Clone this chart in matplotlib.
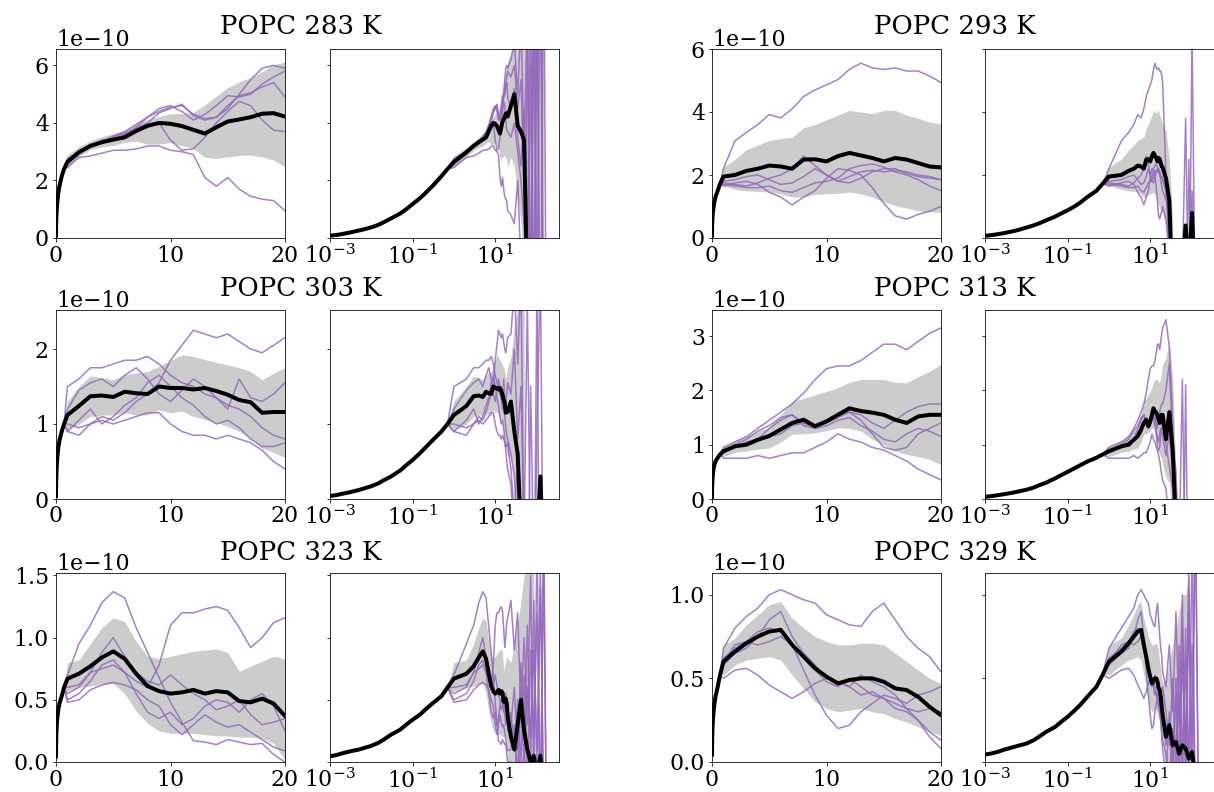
import numpy as np
import matplotlib
matplotlib.use("Agg")
import matplotlib.pyplot as plt

plt.rcParams["font.family"] = ["DejaVu Serif"]
plt.rcParams["mathtext.fontset"] = "dejavuserif"
plt.rcParams["font.size"] = 22
plt.rcParams["xtick.major.pad"] = 3

nan = np.nan

# ---------------- data (units of 1e-10) ----------------
temps = ["283", "293", "303", "313", "323", "329"]

t_early = [0.001, 0.0015, 0.002, 0.003, 0.005, 0.007, 0.01, 0.015, 0.02, 0.03, 0.05, 0.07, 0.1, 0.15, 0.2, 0.3, 0.5, 0.7]
t_main = [1, 2, 3, 4, 5, 6, 7, 8, 9, 10, 11, 12, 13, 14, 15, 16, 17, 18, 19, 20]
t_tail = [24, 29, 35, 42, 50, 60, 72, 86, 103, 124, 149, 179]

# ---- 283 K ----
early_283 = [0.08, 0.11, 0.14, 0.19, 0.26, 0.31, 0.37, 0.46, 0.55, 0.68, 0.85, 1.0, 1.18, 1.38, 1.55, 1.8, 2.15, 2.4]
mean_283 = [2.65, 2.98, 3.2, 3.33, 3.42, 3.5, 3.72, 3.9, 4.0, 3.97, 3.89, 3.76, 3.63, 3.85, 4.05, 4.12, 4.2, 4.32, 4.34, 4.22,
            4.6, 5.0, 3.9, 3.7, 3.4, -2.0, -5.0, -6.0, -7.0, -8.0, -9.0, -10.0]
hi_283 = [2.85, 3.15, 3.35, 3.5, 3.6, 3.7, 3.95, 4.1, 4.2, 4.3, 4.3, 4.35, 4.6, 4.9, 5.2, 5.4, 5.55, 5.75, 6.0, 6.1,
          6.4, 7.5, 8.0, 8.5, 9.0, 9.5, 10, 10, 10, 10, 10, nan]
lo_283 = [2.45, 2.8, 3.05, 3.15, 3.2, 3.3, 3.35, 3.25, 3.25, 3.3, 3.2, 3.1, 2.8, 2.75, 2.8, 2.85, 2.87, 2.8, 2.7, 2.47,
          2.8, 2.5, 1.5, 0.5, -1, -3, -5, -6, -7, -8, -9, nan]
runs_283 = [
    [2.45, 2.8, 2.85, 2.95, 3.05, 3.05, 3.1, 3.2, 3.2, 3.05, 3.0, 2.9, 2.1, 1.8, 2.1, 1.7, 1.45, 1.35, 1.3, 0.95,
     0.8, 0.5, 2.0, -1.0, -3.0, 7.0, -5.0, 9.0, -4.0, -8.0, -9.0, -10],
    [2.7, 3.0, 3.2, 3.4, 3.45, 3.6, 3.85, 4.2, 4.4, 4.55, 4.6, 4.3, 4.15, 4.2, 4.5, 5.0, 5.5, 5.9, 6.0, 5.9,
     6.2, 6.8, 5.0, 7.5, 3.0, 8.0, -2.0, 10.0, 5.0, 12, -5, -8],
    [2.75, 3.0, 3.25, 3.35, 3.55, 3.7, 3.95, 4.2, 4.5, 4.6, 4.4, 4.1, 4.3, 4.6, 4.95, 4.9, 5.0, 5.35, 5.6, 5.8,
     5.6, 6.0, 4.5, 5.5, 2.0, -1.0, 9.0, -3.0, 11.0, -6, -8, -9],
    [2.6, 2.95, 3.15, 3.3, 3.4, 3.55, 3.8, 4.0, 4.35, 4.5, 4.65, 4.25, 4.1, 4.2, 4.6, 4.95, 5.05, 5.25, 5.4, 4.9,
     4.5, 5.2, 3.5, 2.5, 4.5, 1.0, -4.0, 8.0, -2.0, 10, -6, -8],
    [2.55, 2.9, 3.2, 3.35, 3.5, 3.65, 3.8, 3.95, 4.0, 3.4, 3.05, 3.1, 3.5, 4.0, 4.4, 4.75, 4.6, 4.1, 3.75, 3.7,
     3.5, 4.0, 3.0, 2.0, 0.5, -2.0, 6.0, -6.0, 8.0, -7, 12, -9],
]

# ---- 293 K ----
early_293 = [0.07, 0.095, 0.12, 0.16, 0.22, 0.27, 0.33, 0.4, 0.46, 0.56, 0.68, 0.78, 0.88, 1.01, 1.12, 1.3, 1.5, 1.72]
mean_293 = [1.95, 2.0, 2.13, 2.2, 2.3, 2.27, 2.2, 2.49, 2.5, 2.43, 2.6, 2.7, 2.62, 2.54, 2.43, 2.54, 2.49, 2.38, 2.27, 2.24,
            1.9, 1.2, -2.0, -3.0, -2.0, -1.0, 0.4, -1.0, 0.8, -2.0, -3.0, -4.0]
hi_293 = [2.25, 2.5, 2.8, 2.95, 3.1, 3.15, 3.2, 3.5, 3.6, 3.75, 3.9, 4.05, 4.0, 3.95, 4.05, 4.05, 3.9, 3.8, 3.68, 3.62,
          3.4, 2.5, 0.5, nan, nan, nan, nan, nan, nan, nan, nan, nan]
lo_293 = [1.65, 1.55, 1.5, 1.48, 1.46, 1.4, 1.3, 1.3, 1.38, 1.4, 1.42, 1.46, 1.4, 1.3, 1.15, 1.03, 0.95, 0.86, 0.83, 0.81,
          0.4, -0.2, -4.0, nan, nan, nan, nan, nan, nan, nan, nan, nan]
runs_293 = [
    [2.2, 3.08, 3.35, 3.6, 3.92, 3.81, 4.1, 4.49, 4.7, 4.86, 5.03, 5.35, 5.55, 5.4, 5.35, 5.4, 5.3, 5.3, 5.14, 4.94,
     2.0, -1, -4, -6, -5, -8, -6, -7, -9, -6, -8, -9],
    [1.75, 1.7, 1.65, 1.75, 1.9, 2.0, 2.2, 2.6, 2.3, 2.0, 1.8, 1.75, 1.9, 2.1, 2.2, 2.2, 2.05, 1.95, 1.9, 1.85,
     1.5, 0.5, -2, -4, -3, -1, 3.8, -3, -5, -6, -7, -8],
    [1.7, 1.65, 1.6, 1.6, 1.65, 1.5, 1.45, 1.6, 1.75, 1.8, 1.9, 2.2, 2.3, 2.35, 2.25, 2.1, 2.0, 1.85, 1.65, 1.5,
     1.2, 0.8, -1, -3, -5, -3, -4, 2.5, -4, -5, -6, -7],
    [1.65, 1.75, 1.8, 1.7, 1.45, 1.3, 1.05, 1.3, 1.5, 1.9, 2.2, 2.15, 2.0, 1.6, 1.1, 0.7, 0.6, 0.75, 0.85, 1.0,
     0.6, -0.5, -2, -3, -4, -5, -3, -4, 6.5, -3, -5, -6],
    [1.8, 1.85, 1.95, 2.0, 1.85, 1.7, 1.75, 1.95, 2.2, 2.0, 1.8, 1.95, 2.1, 2.15, 2.1, 2.15, 2.1, 2.0, 1.95, 1.85,
     1.5, 0.2, -1.5, -2, -3, -2, -1, -2, 1.5, -1, -4, -5],
]

# ---- 303 K ----
early_303 = [0.04, 0.055, 0.07, 0.09, 0.12, 0.145, 0.17, 0.21, 0.25, 0.3, 0.38, 0.45, 0.52, 0.61, 0.68, 0.78, 0.9, 1.0]
mean_303 = [1.12, 1.24, 1.37, 1.38, 1.36, 1.43, 1.41, 1.4, 1.5, 1.48, 1.48, 1.46, 1.48, 1.44, 1.39, 1.32, 1.29, 1.15, 1.16, 1.16,
            1.3, 0.9, 0.6, -0.5, -2.0, -3.0, -2.0, -1.0, -0.5, 0.3, -1.0, -2.0]
hi_303 = [1.3, 1.5, 1.64, 1.62, 1.59, 1.66, 1.68, 1.7, 1.77, 1.85, 1.92, 1.9, 1.86, 1.82, 1.79, 1.75, 1.7, 1.59, 1.68, 1.75,
          1.9, 2.3, 2.6, 3.0, 3.0, nan, nan, nan, nan, nan, nan, nan]
lo_303 = [0.92, 1.0, 1.1, 1.12, 1.12, 1.15, 1.12, 1.12, 1.19, 1.15, 1.17, 1.1, 1.06, 1.02, 0.97, 0.9, 0.81, 0.68, 0.62, 0.55,
          0.6, 0.2, -0.4, -1.0, -2.0, nan, nan, nan, nan, nan, nan, nan]
runs_303 = [
    [0.9, 0.85, 1.0, 1.1, 1.05, 1.15, 1.3, 1.4, 1.55, 1.85, 2.05, 2.25, 2.2, 2.15, 2.2, 2.1, 2.0, 1.95, 2.05, 2.15,
     2.2, 2.8, 1.8, 3.0, -1, -2, -3, -2, 3.0, -4, -5, -6],
    [1.5, 1.6, 1.75, 1.75, 1.8, 1.85, 1.85, 1.9, 1.8, 1.65, 1.55, 1.5, 1.4, 1.35, 1.25, 1.2, 1.1, 0.95, 0.85, 0.8,
     0.6, 0.3, -0.5, -1, -2, -3, -1, -3, -2, -4, -5, -6],
    [1.2, 1.45, 1.55, 1.6, 1.5, 1.65, 1.75, 1.6, 1.4, 1.3, 1.45, 1.6, 1.5, 1.35, 1.2, 1.6, 1.35, 1.3, 1.4, 1.55,
     1.4, 2.0, 0.8, 1.5, -0.5, 2.6, -1, -2, 1.0, 3.0, -2, -3],
    [0.9, 1.05, 1.2, 1.0, 1.1, 1.25, 1.35, 1.55, 1.65, 1.5, 1.35, 1.25, 1.1, 1.0, 1.05, 0.95, 0.8, 0.7, 0.7, 0.75,
     0.4, -0.2, 0.5, -1, -2, -1, -3, -4, -2, -3, -4, -5],
    [1.0, 0.95, 1.0, 1.05, 1.0, 1.05, 1.1, 1.15, 1.15, 1.0, 0.9, 0.85, 0.85, 0.8, 0.85, 0.8, 0.75, 0.65, 0.5, 0.4,
     0.2, -0.5, -1, -2, -3, -2, 1.5, -1, -3, -4, -5, -6],
]

# ---- 313 K ----
early_313 = [0.04, 0.055, 0.07, 0.09, 0.12, 0.145, 0.17, 0.21, 0.25, 0.3, 0.38, 0.44, 0.5, 0.57, 0.62, 0.69, 0.76, 0.82]
mean_313 = [0.88, 0.97, 1.0, 1.09, 1.16, 1.28, 1.4, 1.46, 1.34, 1.43, 1.55, 1.67, 1.62, 1.59, 1.55, 1.46, 1.4, 1.52, 1.55, 1.55,
            1.1, 1.6, 0.9, -0.5, -2, -3, -4, -5, -6, -7, -8, -9]
hi_313 = [0.98, 1.08, 1.16, 1.25, 1.31, 1.55, 1.8, 1.85, 1.92, 1.98, 2.05, 2.15, 2.2, 2.2, 2.2, 2.15, 2.14, 2.25, 2.35, 2.48,
          2.6, 2.9, 2.2, 0.5, nan, nan, nan, nan, nan, nan, nan, nan]
lo_313 = [0.78, 0.86, 0.88, 0.92, 0.94, 1.05, 1.19, 1.2, 1.22, 1.26, 1.31, 1.3, 1.25, 1.1, 1.0, 0.88, 0.82, 0.78, 0.73, 0.63,
          0.4, 0.3, -0.4, -1.5, nan, nan, nan, nan, nan, nan, nan, nan]
runs_313 = [
    [0.95, 1.05, 1.15, 1.3, 1.45, 1.6, 1.75, 1.95, 2.2, 2.4, 2.45, 2.45, 2.55, 2.7, 2.85, 2.85, 2.75, 2.9, 3.05, 3.15,
     3.3, 2.8, 1.5, -1, -3, -4, -5, -6, -7, -8, -9, -10],
    [0.75, 0.75, 0.75, 0.8, 0.75, 0.8, 0.85, 0.85, 0.95, 1.05, 1.2, 1.1, 1.05, 0.95, 0.9, 0.8, 0.7, 0.55, 0.45, 0.35,
     0.2, -0.5, -2, -3, -4, -5, -6, -6, -7, -8, -9, -10],
    [0.9, 1.0, 1.1, 1.25, 1.35, 1.5, 1.55, 1.4, 1.35, 1.45, 1.55, 1.6, 1.55, 1.4, 1.3, 1.45, 1.6, 1.7, 1.75, 1.75,
     2.0, 2.5, 1.0, 0.5, -1, 2.2, -2, -3, -4, -5, -6, -7],
    [0.85, 0.95, 1.05, 1.1, 1.3, 1.45, 1.55, 1.35, 1.3, 1.4, 1.5, 1.6, 1.45, 1.2, 0.95, 0.9, 0.95, 1.2, 1.3, 1.4,
     1.0, 0.6, 0.2, -1, -2, -3, 2.1, -3, -4, -5, -6, -7],
    [0.9, 0.95, 1.0, 1.1, 1.15, 1.2, 1.35, 1.4, 1.3, 1.35, 1.45, 1.5, 1.35, 1.25, 1.1, 1.05, 1.2, 1.3, 1.25, 1.15,
     0.8, 1.2, 0.5, -0.5, -1.5, -2, -3, -4, -5, -6, -7, -8],
]

# ---- 323 K ----
early_323 = [0.045, 0.058, 0.07, 0.085, 0.1, 0.115, 0.13, 0.155, 0.18, 0.22, 0.26, 0.3, 0.34, 0.38, 0.42, 0.47, 0.53, 0.6]
mean_323 = [0.67, 0.71, 0.77, 0.84, 0.89, 0.83, 0.71, 0.61, 0.57, 0.55, 0.56, 0.58, 0.55, 0.57, 0.56, 0.49, 0.48, 0.51, 0.47, 0.37,
            0.2, 0.1, 0.3, 0.5, 0.25, 0.1, 0.0, 0.05, -0.1, 0.05, -0.3, -0.5]
hi_323 = [0.8, 0.82, 0.95, 1.08, 1.16, 1.13, 0.97, 0.85, 0.83, 0.85, 0.87, 0.89, 0.9, 0.91, 0.88, 0.73, 0.77, 0.81, 0.85, 0.83,
          0.8, 0.95, 1.1, 1.3, 1.5, 1.7, 1.8, 1.9, nan, nan, nan, nan]
lo_323 = [0.57, 0.6, 0.61, 0.63, 0.63, 0.55, 0.41, 0.31, 0.25, 0.23, 0.23, 0.23, 0.22, 0.21, 0.21, 0.2, 0.2, 0.19, 0.15, 0.01,
          -0.1, -0.3, -0.4, -0.5, -0.6, -0.8, -1.0, -1.1, nan, nan, nan, nan]
runs_323 = [
    [0.7, 0.95, 1.1, 1.28, 1.37, 1.32, 1.08, 0.88, 0.68, 0.48, 0.32, 0.17, 0.16, 0.14, 0.18, 0.16, 0.14, 0.15, 0.06, 0.0,
     0.0, -0.1, 0.2, -0.2, 0.1, -0.3, -0.5, -0.6, -0.7, -0.8, -0.9, -1.0],
    [0.6, 0.62, 0.72, 0.75, 0.78, 0.72, 0.65, 0.6, 0.78, 1.1, 1.2, 1.2, 1.23, 1.25, 1.22, 1.08, 0.92, 1.0, 1.12, 1.16,
     1.3, 0.9, 1.2, 0.4, 1.0, 0.3, 1.5, -0.2, 1.8, -0.5, 2.0, -1.0],
    [0.55, 0.6, 0.72, 0.88, 1.0, 0.85, 0.72, 0.65, 0.62, 0.7, 0.62, 0.55, 0.5, 0.42, 0.45, 0.5, 0.38, 0.3, 0.32, 0.35,
     0.3, 0.6, 0.1, 0.8, 0.2, 1.1, 0.0, 1.3, -0.3, 1.6, -0.5, -1.0],
    [0.5, 0.55, 0.65, 0.78, 0.82, 0.72, 0.55, 0.4, 0.35, 0.4, 0.3, 0.35, 0.45, 0.5, 0.48, 0.4, 0.5, 0.55, 0.45, 0.25,
     0.4, 0.1, 0.5, 0.0, 0.7, -0.1, 0.9, 0.2, 1.2, -0.4, 1.6, -1.0],
    [0.48, 0.5, 0.58, 0.62, 0.64, 0.62, 0.58, 0.5, 0.45, 0.3, 0.22, 0.3, 0.38, 0.32, 0.28, 0.3, 0.24, 0.18, 0.12, 0.09,
     0.1, 0.3, -0.1, 0.5, 0.0, 0.6, 0.2, 0.9, 0.1, 1.4, -0.3, -1.0],
]

# ---- 329 K ----
early_329 = [0.044, 0.052, 0.06, 0.075, 0.09, 0.1, 0.11, 0.13, 0.15, 0.18, 0.21, 0.24, 0.27, 0.31, 0.34, 0.39, 0.45, 0.52]
mean_329 = [0.6, 0.66, 0.71, 0.75, 0.78, 0.79, 0.7, 0.63, 0.56, 0.51, 0.47, 0.49, 0.5, 0.5, 0.48, 0.44, 0.43, 0.39, 0.33, 0.28,
            0.15, 0.22, 0.1, 0.12, 0.05, 0.1, 0.08, 0.02, 0.06, -0.1, -0.2, -0.3]
hi_329 = [0.7, 0.74, 0.82, 0.88, 0.94, 0.96, 0.86, 0.8, 0.75, 0.72, 0.7, 0.7, 0.71, 0.71, 0.7, 0.65, 0.6, 0.55, 0.5, 0.47,
          0.5, 0.6, 0.7, 0.8, 0.9, 1.0, 1.0, 1.1, nan, nan, nan, nan]
lo_329 = [0.52, 0.58, 0.61, 0.62, 0.63, 0.61, 0.52, 0.44, 0.36, 0.32, 0.3, 0.31, 0.32, 0.3, 0.29, 0.26, 0.24, 0.21, 0.18, 0.16,
          -0.15, -0.2, -0.3, -0.4, -0.5, -0.6, -0.7, -0.8, nan, nan, nan, nan]
runs_329 = [
    [0.68, 0.8, 0.87, 0.92, 1.0, 1.03, 1.0, 0.97, 0.95, 0.88, 0.85, 0.82, 0.81, 0.9, 0.95, 0.85, 0.75, 0.68, 0.63, 0.54,
     0.45, 0.7, 0.3, 0.9, 0.2, 1.0, -0.2, 1.2, -0.3, 1.5, -0.5, -0.8],
    [0.5, 0.55, 0.56, 0.52, 0.46, 0.42, 0.38, 0.42, 0.47, 0.5, 0.48, 0.45, 0.4, 0.42, 0.38, 0.35, 0.32, 0.3, 0.32, 0.3,
     0.1, 0.2, -0.1, 0.4, 0.0, 0.6, 0.1, 0.9, -0.2, -0.4, -0.6, -0.8],
    [0.6, 0.7, 0.72, 0.78, 0.8, 0.78, 0.7, 0.55, 0.4, 0.28, 0.2, 0.22, 0.3, 0.35, 0.4, 0.38, 0.35, 0.4, 0.42, 0.45,
     0.3, 0.1, 0.5, -0.1, 0.7, 0.0, 0.8, -0.2, 1.3, -0.3, -0.5, -0.8],
    [0.58, 0.65, 0.68, 0.75, 0.85, 0.9, 0.75, 0.65, 0.58, 0.5, 0.48, 0.45, 0.52, 0.48, 0.45, 0.4, 0.32, 0.25, 0.15, 0.08,
     -0.1, 0.3, 0.0, 0.5, -0.2, 0.8, 0.0, 1.0, 0.1, 1.6, -0.4, -0.8],
    [0.62, 0.68, 0.72, 0.7, 0.72, 0.75, 0.7, 0.62, 0.55, 0.48, 0.45, 0.5, 0.45, 0.4, 0.38, 0.32, 0.3, 0.25, 0.18, 0.13,
     0.05, -0.1, 0.2, 0.1, 0.4, -0.1, 0.6, 0.0, 0.7, -0.2, -0.4, -0.8],
]

ytop = [6.57, 6.0, 2.52, 3.48, 1.52, 1.13]
yticks = [[0, 2, 4, 6], [0, 2, 4, 6], [0, 1, 2], [0, 1, 2, 3], [0, 0.5, 1.0, 1.5], [0, 0.5, 1.0]]
lin_xticks = [0, 10, 20]
log_xticks = [1e-3, 1e-1, 1e1]

early = [early_283, early_293, early_303, early_313, early_323, early_329]
means = [mean_283, mean_293, mean_303, mean_313, mean_323, mean_329]
his = [hi_283, hi_293, hi_303, hi_313, hi_323, hi_329]
los = [lo_283, lo_293, lo_303, lo_313, lo_323, lo_329]
runs = [runs_283, runs_293, runs_303, runs_313, runs_323, runs_329]

# ---------------- figure ----------------
W, H = 1214, 792
DPI = 72
fig = plt.figure(figsize=(W / DPI, H / DPI), dpi=DPI)

col_left = [56, 330, 712, 985]
row_top = [49, 310, 573]
aw, ah = 229, 189
title_x = [301, 955]
title_y = [27, 288, 552]

SCALE = 1e-10
PURPLE = "#9467bd"

t_all = np.array(t_early + t_main + t_tail)

for k, temp in enumerate(temps):
    row, grp = k // 2, k % 2
    axes = []
    for j in range(2):
        lp = col_left[2 * grp + j]
        rect = [lp / W, 1 - (row_top[row] + ah) / H, aw / W, ah / H]
        if j == 0:
            ax = fig.add_axes(rect)
        else:
            ax = fig.add_axes(rect, sharey=axes[0])
        axes.append(ax)

    m = np.array(early[k] + means[k]) * SCALE
    hi = np.array(early[k] + his[k]) * SCALE
    lo = np.array(early[k] + los[k]) * SCALE
    for ax in axes:
        ax.fill_between(t_all, lo, hi, color="#cccccc", lw=0, zorder=1)
        for r in runs[k]:
            ax.plot(t_all, np.array(early[k] + r) * SCALE, color=PURPLE, lw=1.5, alpha=0.85, zorder=2)
        ax.plot(t_all, m, color="black", lw=4, zorder=3)

    axL, axR = axes
    axL.set_xlim(0, 20)
    axL.set_xticks(lin_xticks)
    axL.set_ylim(0, ytop[k] * SCALE)
    axL.set_yticks(np.array(yticks[k]) * SCALE)

    axR.set_xscale("log")
    axR.set_xlim(1e-3, 350)
    axR.set_xticks(log_xticks)
    axR.xaxis.set_minor_locator(matplotlib.ticker.NullLocator())
    axR.tick_params(labelleft=False)
    axR.yaxis.offsetText.set_visible(False)

    fig.text(title_x[grp] / W, 1 - title_y[row] / H, f"POPC {temp} K",
             ha="center", va="center", fontsize=26)

fig.savefig("out.png", dpi=DPI)
